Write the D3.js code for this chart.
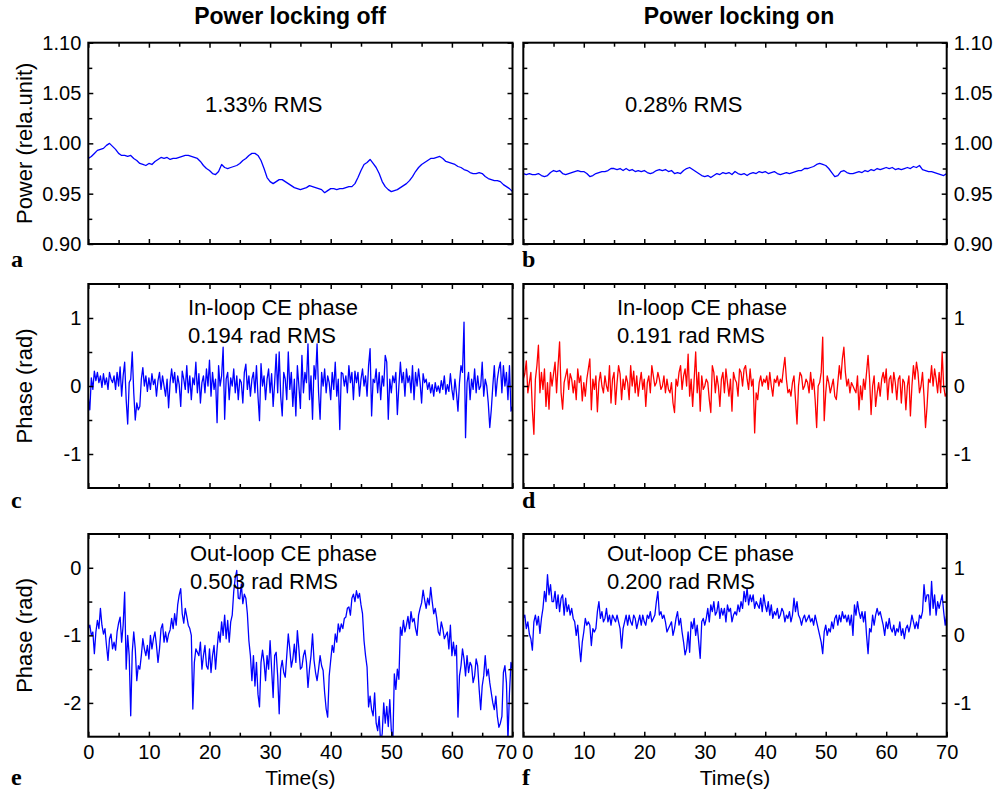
<!DOCTYPE html>
<html><head><meta charset="utf-8">
<script src="https://cdn.jsdelivr.net/npm/d3@7"></script>
<style>
body{margin:0;background:#fff}
svg text{font-family:Arial,"Liberation Sans",sans-serif;fill:#000}
</style></head><body>
<svg id="chart" width="994" height="797"></svg>
<script>
// ---------------- DATA ----------------
const timeMax = 70;
const powerStep = 0.5;   // s between samples of power traces
const phaseStep = 0.25;  // s between samples of phase traces

const powerOff = [
0.985,0.987,0.990,0.993,0.994,0.995,0.998,1.000,0.997,0.994,
0.990,0.988,0.988,0.987,0.988,0.985,0.983,0.980,0.979,0.978,
0.980,0.979,0.982,0.984,0.986,0.985,0.986,0.984,0.985,0.985,
0.986,0.987,0.988,0.988,0.987,0.986,0.985,0.982,0.978,0.975,
0.973,0.970,0.969,0.972,0.979,0.976,0.975,0.976,0.977,0.978,
0.980,0.983,0.985,0.988,0.990,0.990,0.988,0.983,0.975,0.966,
0.962,0.960,0.962,0.964,0.964,0.962,0.960,0.958,0.956,0.955,
0.954,0.955,0.956,0.958,0.957,0.956,0.955,0.954,0.951,0.953,
0.955,0.955,0.954,0.955,0.955,0.956,0.957,0.957,0.960,0.966,
0.973,0.979,0.981,0.984,0.980,0.976,0.970,0.962,0.957,0.954,
0.952,0.953,0.954,0.956,0.958,0.960,0.963,0.967,0.972,0.976,
0.979,0.981,0.983,0.985,0.985,0.986,0.987,0.985,0.982,0.981,
0.980,0.979,0.977,0.976,0.974,0.973,0.971,0.970,0.970,0.971,
0.970,0.967,0.965,0.964,0.963,0.963,0.962,0.959,0.957,0.955,
0.952];

const powerOn = [
0.970,0.969,0.970,0.969,0.969,0.970,0.968,0.967,0.968,0.971,
0.973,0.972,0.973,0.970,0.969,0.970,0.971,0.972,0.973,0.972,
0.972,0.970,0.967,0.968,0.970,0.971,0.972,0.972,0.973,0.975,
0.975,0.974,0.975,0.973,0.975,0.973,0.974,0.972,0.973,0.972,
0.973,0.971,0.970,0.971,0.973,0.974,0.973,0.974,0.972,0.973,
0.970,0.971,0.970,0.973,0.975,0.976,0.974,0.972,0.970,0.968,
0.967,0.968,0.966,0.968,0.970,0.969,0.971,0.970,0.971,0.969,
0.972,0.970,0.969,0.970,0.968,0.970,0.971,0.970,0.972,0.971,
0.972,0.970,0.971,0.972,0.970,0.969,0.970,0.971,0.970,0.971,
0.972,0.973,0.973,0.975,0.975,0.976,0.977,0.979,0.980,0.979,
0.978,0.975,0.971,0.967,0.968,0.972,0.973,0.971,0.970,0.970,
0.971,0.972,0.971,0.973,0.972,0.974,0.973,0.975,0.974,0.975,
0.976,0.975,0.976,0.974,0.975,0.974,0.975,0.976,0.975,0.977,
0.976,0.978,0.974,0.973,0.972,0.972,0.971,0.970,0.969,0.968,
0.970];

const inLoopOff = [
-0.17,-0.35,0.12,-0.05, 0.22,0.08,0.2,0.05, 0.15,-0.02,0.18,0.02, 0.12,-0.05,0.2,0.1,
0.05,0.15,-0.05,0.2, 0.0,0.28,-0.15,0.15, 0.35,-0.2,-0.56,0.05, 0.1,0.5,-0.1,-0.5,
-0.25,-0.35,-0.3,0.1, 0.27,0.0,0.15,-0.08, 0.12,-0.05,0.18,0.02, 0.1,-0.15,0.08,0.2,
-0.05,0.15,0.0,-0.15, 0.1,-0.32,0.05,0.25, 0.05,0.2,-0.1,0.15, 0.02,-0.3,0.22,0.1,
-0.05,0.3,-0.1,0.15, -0.2,0.12,0.02,0.35, -0.1,0.18,-0.25,0.05, 0.15,-0.1,0.25,0.0,
0.38,-0.15,0.2,-0.05, 0.1,-0.54,0.3,0.0, 0.15,0.57,-0.49,0.1, 0.2,-0.2,0.12,0.0,
0.25,-0.1,0.15,-0.2, 0.1,0.05,-0.25,0.2, 0.32,-0.05,0.15,-0.15, 0.1,0.2,-0.1,0.3,
-0.15,-0.51,0.33,0.0, 0.15,-0.2,0.1,0.25, -0.1,0.18,-0.3,0.05, 0.47,-0.1,0.5,-0.15,
-0.44,0.2,0.1,-0.2, 0.5,-0.05,0.2,-0.3, 0.1,-0.44,0.3,0.0, -0.33,0.45,-0.1,0.2,
0.05,0.62,-0.2,0.15, -0.49,0.3,0.1,0.62, -0.1,-0.49,0.2,0.0, 0.25,-0.1,0.15,0.05,
-0.2,0.2,-0.05,0.35, -0.15,0.1,-0.64,0.2, 0.18,0.0,0.15,-0.1, 0.3,0.05,0.2,-0.2,
0.22,0.05,0.2,-0.15, 0.1,0.25,0.0,0.15, -0.15,0.3,0.55,-0.44, 0.1,0.05,0.25,-0.1,
0.2,-0.2,0.15,0.0, 0.45,0.35,-0.49,0.1, -0.1,0.15,0.05,0.2, -0.42,0.0,0.35,0.05,
0.2,-0.15,0.25,0.05, 0.15,-0.1,0.3,-0.2, 0.2,0.0,0.25,0.05, -0.25,0.18,0.05,0.1,
-0.05,0.05,-0.1,0.02, -0.15,0.05,-0.08,0.0, -0.1,0.08,-0.05,0.15, -0.12,0.02,-0.08,0.18,
-0.05,-0.2,0.1,-0.1, -0.37,0.05,0.3,0.2, 0.94,-0.76,0.05,0.2, -0.2,0.1,-0.05,0.25,
-0.1,0.15,-0.05,0.0, 0.35,-0.15,0.1,0.0, -0.25,-0.61,-0.35,0.0, 0.3,-0.15,0.1,0.25,
0.35,-0.1,0.3,0.0, 0.2,-0.2,0.3,-0.37, -0.3];

const inLoopOn = [
0.1,0.18,0.37,-0.1, 0.05,0.2,-0.35,-0.71, 0.1,0.3,0.6,-0.1, 0.2,-0.05,0.25,-0.3,
0.05,-0.34,0.2,0.0, 0.18,0.35,-0.1,0.3, 0.65,-0.1,-0.34,0.05, 0.15,0.25,-0.05,0.18,
0.1,-0.1,0.08,-0.2, 0.25,0.05,0.15,-0.22, 0.05,-0.15,0.1,0.25, 0.4,-0.35,0.1,-0.05,
0.15,-0.38,0.05,0.2, 0.0,-0.1,0.15,0.0, -0.08,0.3,-0.25,0.1, 0.2,-0.27,0.05,0.3,
0.18,-0.2,0.1,-0.05, 0.15,0.05,-0.2,0.3, 0.0,0.22,-0.1,0.15, -0.15,0.05,0.2,-0.05,
0.1,-0.3,0.05,0.15, -0.1,0.3,0.15,0.0, 0.05,0.2,0.1,-0.05, 0.0,0.15,-0.1,0.1,
-0.05,-0.1,0.05,-0.25, -0.39,0.1,0.0,0.2, 0.3,-0.05,0.15,0.25, 0.0,0.47,-0.15,0.1,
-0.3,0.1,0.5,-0.1, 0.2,-0.37,0.15,-0.05, 0.0,0.1,0.05,-0.2, -0.39,0.3,0.2,-0.1,
0.15,0.0,-0.3,0.1, 0.2,-0.1,0.25,0.05, -0.15,0.1,-0.37,0.2, 0.1,0.05,-0.15,0.25,
0.2,0.0,0.25,0.3, 0.1,-0.05,0.25,0.0, 0.1,-0.69,-0.1,-0.2, 0.05,0.15,0.0,0.1,
0.05,0.15,-0.05,0.2, 0.0,-0.15,0.1,0.05, 0.15,0.0,0.1,0.05, 0.25,0.42,0.1,-0.1,
-0.05,-0.15,0.05,0.15, -0.2,-0.56,0.0,0.2, 0.15,-0.05,0.0,0.1, 0.05,-0.1,0.2,-0.05,
0.1,-0.2,-0.61,0.0, 0.05,0.2,0.72,-0.51, -0.1,0.15,0.05,-0.1, 0.0,0.1,-0.15,-0.2,
0.05,0.3,0.1,0.4, 0.57,0.2,0.0,0.1, -0.1,0.05,0.0,-0.05, -0.1,0.15,-0.35,0.0,
-0.2,0.1,-0.05,0.2, 0.45,0.1,-0.42,0.0, 0.15,-0.3,-0.1,0.05, -0.15,0.1,0.2,0.05,
0.25,-0.2,0.1,0.15, -0.1,0.2,0.05,-0.2, 0.1,0.15,-0.25,0.1, 0.05,-0.35,0.0,0.15,
-0.44,0.0,0.3,0.1, 0.35,0.2,-0.1,0.0, 0.2,-0.15,-0.61,-0.3, 0.1,0.05,0.3,0.0,
0.25,0.1,-0.1,0.2, -0.1,0.5,0.0,-0.15, -0.1];

const outLoopOff = [
-0.9,-0.85,-1.0,-0.95, -1.27,-0.95,-0.78,-0.9, -0.6,-0.85,-0.98,-0.9, -1.15,-1.37,-1.05,-0.98,
-1.2,-1.1,-1.22,-0.95, -0.82,-0.73,-1.1,-0.85, -0.36,-1.5,-1.0,-1.3, -2.19,-1.25,-0.95,-1.2,
-1.67,-1.45,-1.5,-1.3, -1.05,-1.2,-1.3,-1.15, -1.35,-1.0,-1.2,-1.05, -0.95,-1.15,-1.4,-1.2,
-0.9,-0.83,-1.1,-0.95, -1.1,-0.98,-0.92,-0.75, -0.9,-0.68,-0.85,-0.55, -0.4,-0.31,-0.68,-0.82,
-0.6,-0.72,-0.85,-0.9, -1.0,-2.09,-1.4,-1.2, -1.25,-1.3,-1.1,-1.5, -1.3,-1.15,-1.45,-1.5,
-1.2,-1.55,-1.3,-1.15, -1.5,-1.2,-0.95,-1.1, -0.8,-1.0,-0.7,-1.05, -0.78,-1.1,-0.8,-0.7,
-0.35,-0.15,-0.04,-0.45, -0.46,-0.24,-0.53,-0.39, -0.45,-0.68,-1.08,-1.3, -1.67,-1.3,-1.75,-1.4,
-1.87,-2.06,-1.4,-1.22, -1.4,-1.67,-1.3,-1.5, -1.08,-1.5,-1.92,-1.3, -1.25,-1.6,-2.16,-1.5,
-1.37,-1.55,-1.62,-1.3, -0.98,-1.2,-1.47,-1.35, -1.13,-1.4,-0.93,-1.2, -1.5,-1.47,-1.3,-1.22,
-1.4,-1.77,-1.5,-1.3, -0.98,-1.37,-1.55,-1.67, -1.5,-1.3,-1.45,-1.52, -1.85,-2.09,-2.21,-1.6,
-1.37,-1.15,-1.25,-0.98, -1.1,-0.83,-0.95,-0.83, -0.9,-0.75,-0.73,-0.6, -0.58,-0.7,-0.45,-0.39,
-0.5,-0.34,-0.45,-0.38, -0.55,-0.68,-1.08,-1.3, -1.47,-2.06,-1.9,-2.1, -2.19,-1.85,-2.3,-2.41,
-2.2,-2.6,-2.45,-2.0, -2.3,-2.05,-2.35,-1.95, -2.4,-2.6,-1.57,-1.8, -1.5,-1.65,-0.88,-1.0,
-0.78,-0.95,-0.85,-0.72, -0.9,-0.65,-0.8,-0.75, -0.9,-1.0,-0.7,-0.6, -0.52,-0.33,-0.48,-0.6,
-0.45,-0.55,-0.29,-0.5, -0.68,-0.6,-0.75,-0.95, -1.0,-0.8,-0.9,-1.05, -1.0,-0.95,-1.2,-0.85,
-1.3,-1.1,-1.3,-1.15, -2.21,-1.6,-1.45,-1.2, -1.35,-1.6,-1.3,-1.55, -1.4,-1.45,-1.7,-1.6,
-1.35,-1.45,-1.8,-2.1, -1.75,-1.6,-1.3,-1.6, -1.5,-1.7,-1.85,-2.0, -2.1,-1.9,-2.2,-2.36,
-2.3,-2.2,-1.55,-1.45, -1.7,-2.55,-1.85,-1.4, -1.5];

const outLoopOn = [
0.25,0.3,0.1,0.2, 0.02,-0.05,-0.22,0.2, 0.3,0.15,0.28,0.03, 0.25,0.4,0.65,0.5,
0.9,0.6,0.75,0.5, 0.5,0.65,0.4,0.6, 0.35,0.55,0.6,0.3, 0.55,0.35,0.45,0.3,
0.4,0.25,0.2,0.0, 0.15,-0.15,-0.39,-0.1, 0.05,0.25,0.15,0.2, 0.15,-0.15,0.1,0.05,
0.1,0.35,0.5,0.25, 0.35,0.2,0.25,0.4, 0.2,0.3,0.15,0.3, 0.25,0.2,0.3,0.2,
0.1,-0.19,0.1,0.2, 0.3,0.15,0.3,0.2, 0.15,0.3,0.25,0.1, 0.2,0.3,0.15,0.3,
0.2,0.15,0.3,0.25, 0.35,0.2,0.25,0.3, 0.5,0.65,0.3,0.35, 0.25,0.3,0.2,0.05,
0.1,0.15,0.2,0.0, 0.1,0.25,0.35,0.15, 0.25,0.05,-0.1,-0.29, -0.2,0.05,-0.25,0.2,
0.1,0.25,0.0,0.15, -0.1,-0.34,0.2,0.25, 0.15,0.25,0.4,0.2, 0.45,0.35,0.5,0.3,
0.35,0.5,0.25,0.4, 0.3,0.4,0.2,0.45, 0.35,0.4,0.2,0.3, 0.35,0.3,0.45,0.35,
0.5,0.4,0.65,0.5, 0.7,0.45,0.6,0.5, 0.6,0.4,0.5,0.45, 0.4,0.55,0.35,0.6,
0.45,0.35,0.5,0.3, 0.45,0.25,0.35,0.3, 0.4,0.25,0.3,0.4, 0.35,0.2,0.3,0.25,
0.35,0.2,0.3,0.55, 0.35,0.5,0.3,0.25, 0.15,0.25,0.3,0.2, 0.25,0.3,0.2,0.25,
0.15,0.3,0.2,0.1, 0.0,-0.1,-0.27,0.05, 0.15,0.0,0.1,0.05, 0.2,0.1,0.25,0.3,
0.15,0.3,0.2,0.35, 0.25,0.3,0.2,0.3, 0.15,0.3,0.0,0.45, 0.3,0.5,0.35,0.25,
0.35,0.2,0.35,0.0, -0.27,0.1,0.05,0.3, 0.15,0.3,0.4,0.3, 0.35,0.25,0.15,0.0,
0.2,0.1,0.25,0.1, 0.05,0.15,0.0,0.1, 0.05,0.2,0.0,0.1, -0.05,0.1,0.15,0.05,
0.15,0.3,0.2,0.1, 0.2,0.1,0.3,0.25, 0.35,0.75,0.5,0.6, 0.6,0.3,0.8,0.4,
0.6,0.3,0.5,0.4, 0.5,0.6,0.35,0.15, 0.3];

const timeTicks = [0,10,20,30,40,50,60,70];
const timeMinorTicks = [5,15,25,35,45,55,65];
const powerTicks = [0.90,0.95,1.00,1.05,1.10];
const powerMinorTicks = [0.925,0.975,1.025,1.075];
const inLoopTicks = [-1,0,1];
const inLoopMinorTicks = [-0.5,0.5];
const outLoopOffTicks = [-2,-1,0];
const outLoopOffMinorTicks = [-1.5,-0.5];
const outLoopOnTicks = [-1,0,1];
const outLoopOnMinorTicks = [-0.5,0.5];

const columnTitles = ["Power locking off","Power locking on"];
const notesA = ["1.33% RMS"];
const notesB = ["0.28% RMS"];
const notesC = ["In-loop CE phase","0.194 rad RMS"];
const notesD = ["In-loop CE phase","0.191 rad RMS"];
const notesE = ["Out-loop CE phase","0.503 rad RMS"];
const notesF = ["Out-loop CE phase","0.200 rad RMS"];
const yTitles = ["Power (rela.unit)","Phase (rad)","Phase (rad)"];
const xTitle = "Time(s)";

// ---------------- LAYOUT ----------------
const cols = [{x0:88.3,x1:512.5},{x0:523.3,x1:946.7}];
const rows = [{y0:42.7,y1:244},{y0:284,y1:488},{y0:534,y1:736.7}];
const BLUE = "#0000ff", RED = "#ff0000";

const panels = [
 {c:0,r:0,vals:powerOff,dt:powerStep,dom:[0.9,1.1],maj:powerTicks,min:powerMinorTicks,fmt:d3.format(".2f"),side:"left",color:BLUE,letter:"a",notes:notesA,nx:205,ny:[112]},
 {c:1,r:0,vals:powerOn,dt:powerStep,dom:[0.9,1.1],maj:powerTicks,min:powerMinorTicks,fmt:d3.format(".2f"),side:"right",color:BLUE,letter:"b",notes:notesB,nx:625,ny:[112]},
 {c:0,r:1,vals:inLoopOff,dt:phaseStep,dom:[-1.5,1.5],maj:inLoopTicks,min:inLoopMinorTicks,fmt:d=>String(d),side:"left",color:BLUE,letter:"c",notes:notesC,nx:188,ny:[315,343]},
 {c:1,r:1,vals:inLoopOn,dt:phaseStep,dom:[-1.5,1.5],maj:inLoopTicks,min:inLoopMinorTicks,fmt:d=>String(d),side:"right",color:RED,letter:"d",notes:notesD,nx:617,ny:[315,343]},
 {c:0,r:2,vals:outLoopOff,dt:phaseStep,dom:[-2.5,0.5],maj:outLoopOffTicks,min:outLoopOffMinorTicks,fmt:d=>String(d),side:"left",color:BLUE,letter:"e",notes:notesE,nx:190,ny:[561,589]},
 {c:1,r:2,vals:outLoopOn,dt:phaseStep,dom:[-1.5,1.5],maj:outLoopOnTicks,min:outLoopOnMinorTicks,fmt:d=>String(d),side:"right",color:BLUE,letter:"f",notes:notesF,nx:607,ny:[561,589]}
];

const svg = d3.select("#chart");
svg.append("rect").attr("width",994).attr("height",797).attr("fill","#fff");
const defs = svg.append("defs");

function styleAxis(g, fontSize){
  g.select(".domain").remove();
  g.selectAll(".tick line").attr("stroke","#000").attr("stroke-width",1.5);
  g.selectAll(".tick text").attr("font-size",fontSize).attr("fill","#000");
  g.attr("font-family",null);
}

panels.forEach((p,i)=>{
  const col = cols[p.c], row = rows[p.r];
  const w = col.x1-col.x0, h = row.y1-row.y0;
  const x = d3.scaleLinear().domain([0,timeMax]).range([0,w]);
  const y = d3.scaleLinear().domain(p.dom).range([h,0]);
  const g = svg.append("g").attr("transform",`translate(${col.x0},${row.y0})`);

  defs.append("clipPath").attr("id","clip"+i).append("rect").attr("width",w).attr("height",h);

  const line = d3.line().x((d,k)=>x(k*p.dt)).y(d=>y(d));
  g.append("path").datum(p.vals).attr("clip-path",`url(#clip${i})`)
    .attr("fill","none").attr("stroke",p.color).attr("stroke-width",1.3)
    .attr("stroke-linejoin","round").attr("d",line);

  const showX = p.r===2;
  // bottom
  const gb = g.append("g").attr("transform",`translate(0,${h})`)
    .call(d3.axisBottom(x).tickValues(timeTicks).tickSize(-5).tickPadding(8)
      .tickFormat(showX? d=>String(d) : ()=>""));
  styleAxis(gb,20);
  if(showX){
    gb.selectAll(".tick text").attr("dx",d=> (p.c===0 && d===70)? -7 : (p.c===1 && d===0 ? 4 : 0));
  }
  styleAxis(g.append("g").attr("transform",`translate(0,${h})`)
    .call(d3.axisBottom(x).tickValues(timeMinorTicks).tickSize(-4).tickFormat(()=>"")),20);
  // top
  styleAxis(g.append("g").call(d3.axisTop(x).tickValues(timeTicks).tickSize(-5).tickFormat(()=>"")),20);
  styleAxis(g.append("g").call(d3.axisTop(x).tickValues(timeMinorTicks).tickSize(-4).tickFormat(()=>"")),20);
  // left
  styleAxis(g.append("g").call(d3.axisLeft(y).tickValues(p.maj).tickSize(-5).tickPadding(7)
      .tickFormat(p.side==="left"? p.fmt : ()=>"")),20);
  styleAxis(g.append("g").call(d3.axisLeft(y).tickValues(p.min).tickSize(-4).tickFormat(()=>"")),20);
  // right
  styleAxis(g.append("g").attr("transform",`translate(${w},0)`)
    .call(d3.axisRight(y).tickValues(p.maj).tickSize(-5).tickPadding(7)
      .tickFormat(p.side==="right"? p.fmt : ()=>"")),20);
  styleAxis(g.append("g").attr("transform",`translate(${w},0)`)
    .call(d3.axisRight(y).tickValues(p.min).tickSize(-4).tickFormat(()=>"")),20);

  // frame
  g.append("rect").attr("width",w).attr("height",h).attr("fill","none")
    .attr("stroke","#000").attr("stroke-width",2);

  // annotations
  p.notes.forEach((t,k)=>{
    svg.append("text").attr("x",p.nx).attr("y",p.ny[k]).attr("font-size",22).text(t);
  });

  // panel letter
  svg.append("text").attr("x",p.c===0? 11 : 522).attr("y",row.y1+(p.r===0?23:p.r===1?20:48))
    .style("font-family",'"Times New Roman","Liberation Serif",serif')
    .attr("font-weight","bold").attr("font-size",24).text(p.letter);

  if(showX){
    svg.append("text").attr("x",(col.x0+col.x1)/2).attr("y",785).attr("text-anchor","middle")
      .attr("font-size",21).text(xTitle);
  }
  if(p.c===0){
    svg.append("text").attr("transform",`translate(32,${(row.y0+row.y1)/2}) rotate(-90)`)
      .attr("text-anchor","middle").attr("font-size",22).text(yTitles[p.r]);
  }
});

columnTitles.forEach((t,k)=>{
  svg.append("text").attr("x",k===0?290:739).attr("y",24).attr("text-anchor","middle")
    .attr("font-size",23).attr("font-weight","bold").text(t);
});
</script>
</body></html>
